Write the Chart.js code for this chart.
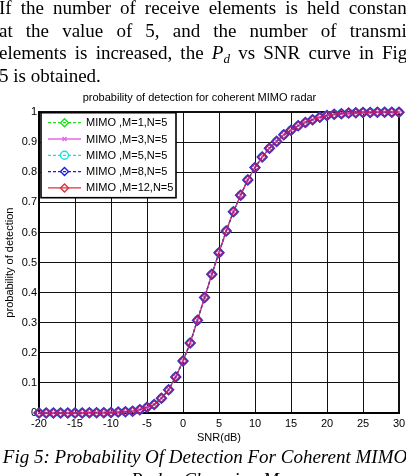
<!DOCTYPE html>
<html>
<head>
<meta charset="utf-8">
<script src="https://cdn.jsdelivr.net/npm/chart.js@4.4.1/dist/chart.umd.min.js"></script>
<style>
  html, body { margin: 0; padding: 0; background: #fff; overflow: hidden; }
  body { width: 406px; height: 476px; position: relative; }
  #wrap { position: absolute; left: 0; top: 0; width: 406px; height: 476px; }
  .para {
    position: absolute; left: -1px; top: -3px; width: 413px;
    font-family: "Liberation Serif", "Times New Roman", serif;
    font-size: 19px; line-height: 22.7px; color: #000;
  }
  .para .j { text-align: justify; text-align-last: justify; }
  .para sub { font-size: 13px; line-height: 0; vertical-align: -4px; }
  .caption {
    position: absolute; left: 2px; top: 446px; width: 406px; text-align: center;
    font-family: "Liberation Serif", "Times New Roman", serif; font-style: italic;
    font-size: 19px; line-height: 22.7px; color: #000;
  }
</style>
</head>
<body>
<div id="wrap"><canvas id="PdChart" width="406" height="476"></canvas></div>
<div class="para">
  <div class="j">If the number of receive elements is held constant</div>
  <div class="j">at the value of 5, and the number of transmit</div>
  <div class="j">elements is increased, the <i>P<sub>d</sub></i> vs SNR curve in Fig.</div>
  <div>5 is obtained.</div>
</div>
<div class="caption">Fig 5: Probability Of Detection For Coherent MIMO<br>Radar Changing M</div>
<script>
// SNR axis (dB), one point per dB
const snrDb = [-20, -19, -18, -17, -16, -15, -14, -13, -12, -11, -10, -9, -8, -7, -6, -5, -4, -3, -2, -1,
  0, 1, 2, 3, 4, 5, 6, 7, 8, 9, 10, 11, 12, 13, 14, 15, 16, 17, 18, 19, 20,
  21, 22, 23, 24, 25, 26, 27, 28, 29, 30];

// probability of detection (all five curves lie on top of each other)
const pdM1 = [0.000, 0.000, 0.000, 0.000, 0.000, 0.000, 0.000, 0.001, 0.001, 0.001, 0.002, 0.003, 0.004, 0.006, 0.011, 0.019, 0.028, 0.049, 0.077, 0.120,
  0.173, 0.233, 0.308, 0.384, 0.461, 0.533, 0.605, 0.669, 0.724, 0.775, 0.816, 0.851, 0.880, 0.903, 0.925, 0.940, 0.955, 0.966, 0.975, 0.983, 0.989,
  0.993, 0.995, 0.997, 0.998, 0.999, 0.999, 1.000, 1.000, 1.000, 1.000];
const pdM3 = pdM1.slice();
const pdM5 = pdM1.slice();
const pdM8 = pdM1.slice();
const pdM12 = pdM1.slice();

const seriesLabels = ['MIMO ,M=1,N=5', 'MIMO ,M=3,N=5', 'MIMO ,M=5,N=5', 'MIMO ,M=8,N=5', 'MIMO ,M=12,N=5'];
const seriesValues = [pdM1, pdM3, pdM5, pdM8, pdM12];
const xTicks = [-20, -15, -10, -5, 0, 5, 10, 15, 20, 25, 30];
const yTicks = [0, 0.1, 0.2, 0.3, 0.4, 0.5, 0.6, 0.7, 0.8, 0.9, 1];

// legend colour / plotted colour (plotted ones are a bit see-through so the stacked curves blend)
const styles = [
  {color: '#19e019', plot: '#19e019', dash: [3, 2], marker: 'rectRot', radius: 4.5, width: 1.3},
  {color: '#e468e4', plot: '#f060d0', dash: [], marker: 'crossRot', radius: 2, width: 1.3},
  {color: '#19e0e0', plot: '#19e0e0', dash: [3, 2], marker: 'circle', radius: 4, width: 1.3},
  {color: '#1a1ae0', plot: '#3a2ad0', dash: [3, 2], marker: 'rectRot', radius: 4.6, width: 2},
  {color: '#e0303a', plot: 'rgba(225,25,75,0.6)', dash: [], marker: 'rectRot', radius: 4, width: 1.4}
];

function drawMarker(ctx, kind, x, y, r, color, lw) {
    ctx.save();
    ctx.strokeStyle = color;
    ctx.lineWidth = lw;
    ctx.setLineDash([]);
    ctx.beginPath();
    if (kind === 'rectRot') {
        ctx.moveTo(x, y - r); ctx.lineTo(x + r, y); ctx.lineTo(x, y + r); ctx.lineTo(x - r, y); ctx.closePath();
    } else if (kind === 'crossRot') {
        ctx.moveTo(x - r, y - r); ctx.lineTo(x + r, y + r);
        ctx.moveTo(x + r, y - r); ctx.lineTo(x - r, y + r);
    } else {
        ctx.arc(x, y, r, 0, Math.PI * 2);
    }
    ctx.stroke();
    ctx.restore();
}

const boxLegend = {
    id: 'boxLegend',
    afterDraw(chart) {
        const ctx = chart.ctx;
        const a = chart.chartArea;
        const x0 = a.left + 2, y0 = a.top + 0.5, w = 135, h = 85;
        ctx.save();
        ctx.fillStyle = '#fff';
        ctx.fillRect(x0, y0, w, h);
        ctx.strokeStyle = '#000';
        ctx.lineWidth = 1.6;
        ctx.strokeRect(x0, y0, w, h);
        ctx.font = '11px "Liberation Sans", Arial, sans-serif';
        ctx.fillStyle = '#000';
        ctx.textBaseline = 'middle';
        seriesLabels.forEach(function(label, i) {
            const s = styles[i];
            const yy = y0 + 10 + i * 16.3;
            ctx.strokeStyle = s.color;
            ctx.lineWidth = 1.3;
            ctx.setLineDash(s.dash);
            ctx.beginPath();
            ctx.moveTo(x0 + 7, yy);
            ctx.lineTo(x0 + 40, yy);
            ctx.stroke();
            drawMarker(ctx, s.marker, x0 + 23.5, yy, i === 1 ? 2 : 4, s.color, 1.4);
            ctx.fillText(label, x0 + 45, yy + 0.5);
        });
        ctx.restore();
    }
};

document.addEventListener("DOMContentLoaded", function() {
    const font = {family: '"Liberation Sans", Arial, sans-serif', size: 11};
    const datasets = seriesLabels.map(function(label, i) {
        const s = styles[i];
        return {
            label: label,
            data: snrDb.map(function(x, k) { return {x: x, y: seriesValues[i][k]}; }),
            borderColor: s.plot,
            borderWidth: 1.3,
            borderDash: s.dash,
            pointStyle: s.marker,
            pointRadius: s.radius,
            pointBorderColor: s.plot,
            pointBorderWidth: s.width,
            pointBackgroundColor: 'rgba(0,0,0,0)',
            tension: 0,
            clip: false,
            order: seriesLabels.length - 1 - i
        };
    });

    const ctx = document.getElementById('PdChart').getContext('2d');
    new Chart(ctx, {
        type: 'line',
        data: {datasets: datasets},
        options: {
            responsive: false,
            animation: false,
            events: [],
            layout: {padding: {top: 91, right: 7, bottom: 31, left: 0}},
            plugins: {
                legend: {display: false},
                tooltip: {enabled: false},
                title: {
                    display: true,
                    text: 'probability of detection for coherent MIMO radar',
                    color: '#000',
                    font: {family: font.family, size: 11, weight: 'normal'},
                    padding: {top: 0, bottom: 8}
                }
            },
            scales: {
                x: {
                    type: 'linear',
                    min: -20, max: 30,
                    afterBuildTicks: function(scale) { scale.ticks = xTicks.map(function(v) { return {value: v}; }); },
                    afterFit: function(scale) {
                        scale.height = 32;
                        scale.paddingLeft = 0;
                        scale.paddingRight = 0;
                    },
                    grid: {
                        color: '#111',
                        lineWidth: function(c) { return c.tick && c.tick.value === 30 ? 2 : 1; },
                        drawTicks: false
                    },
                    border: {display: true, color: '#000', width: 2},
                    ticks: {color: '#000', font: font, padding: 4, maxRotation: 0,
                        callback: function(v) { return String(v); }},
                    title: {display: true, text: 'SNR(dB)', color: '#000', font: font, padding: 0}
                },
                y: {
                    min: 0, max: 1,
                    afterBuildTicks: function(scale) { scale.ticks = yTicks.map(function(v) { return {value: v}; }); },
                    afterFit: function(scale) {
                        scale.width = 39;
                        scale.paddingTop = 0;
                        scale.paddingBottom = 0;
                    },
                    grid: {
                        color: '#111',
                        lineWidth: function(c) { return c.tick && c.tick.value === 1 ? 2 : 1; },
                        drawTicks: false
                    },
                    border: {display: true, color: '#000', width: 2},
                    ticks: {color: '#000', font: font, padding: 2,
                        callback: function(v) { return String(Number(v.toFixed(1))); }},
                    title: {display: true, text: 'probability of detection', color: '#000', font: font, padding: {top: 3, bottom: 0}}
                }
            }
        },
        plugins: [boxLegend]
    });
});
</script>
</body>
</html>
